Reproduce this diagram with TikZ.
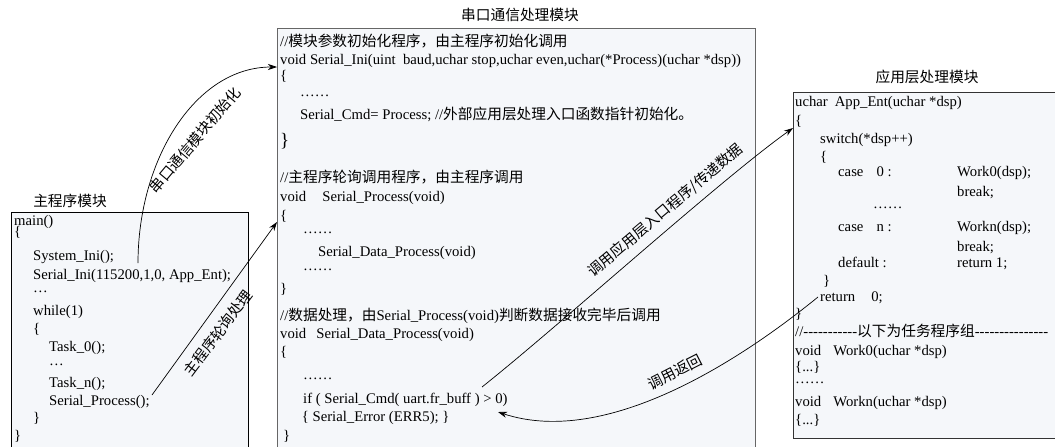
\documentclass[tikz,border=0pt]{standalone}
\usepackage{fontspec}
\setmainfont{Liberation Serif}
\newfontfamily\cjk{Noto Sans CJK SC}
\usetikzlibrary{arrows.meta}
\definecolor{boxfill}{RGB}{245,247,250}
\newcommand\zh[1]{{\cjk #1}}
\newcommand\fs{\fontsize{14.7}{17}\selectfont}
\newcommand\hy{\mbox{-}}
\begin{document}
\begin{tikzpicture}[x=1pt,y=-1pt,
  code/.style={anchor=west,inner sep=0pt,font=\fs,execute at begin node=\strut},
  title/.style={inner sep=0pt,font=\fs},
  lab/.style={inner sep=0pt,font=\fs},
  arr/.style={line width=0.7pt,-{Stealth[length=9pt,width=6pt]}},
  box/.style={anchor=north west,fill=boxfill,inner sep=0pt}]
\useasboundingbox (0,0) rectangle (1055,447);
\clip (0,0) rectangle (1055,447);

% boxes
\node[box,draw=black,line width=0.8pt,minimum width=237pt,minimum height=260pt] (mainbox) at (11,211.5) {};
\node[box,draw=black!60,line width=1.3pt,minimum width=478pt,minimum height=440pt] (serbox) at (277,28) {};
\node[box,draw=black!80,line width=1pt,minimum width=275pt,minimum height=346pt] (appbox) at (792.5,92) {};

% titles
\node[title] (t1) at (70,200.5) {\zh{主程序模块}};
\node[title] (t2) at (520,15) {\zh{串口通信处理模块}};
\node[title] (t3) at (927,76.7) {\zh{应用层处理模块}};

% main program
\node[code] (m1) at (14,221.7) {main()};
\node[code] (m2) at (14,233.5) {\{};
\node[code] (m3) at (33,257) {System\_Ini();};
\node[code] (m4) at (33,275.7) {Serial\_Ini(115200,1,0, App\_Ent);};
\node[code] (m5) at (33,289.3) {…};
\node[code] (m6) at (33,311.7) {while(1)};
\node[code] (m7) at (33,330) {\{};
\node[code] (m8) at (49,347.7) {Task\_0();};
\node[code] (m9) at (49,362.3) {…};
\node[code] (m10) at (49,384) {Task\_n();};
\node[code] (m11) at (49,401.7) {Serial\_Process();};
\node[code] (m12) at (33,419) {\}};
\node[code] (m13) at (14,436.7) {\}};

% serial module
\node[code] (s1) at (280,42.7) {//\zh{模块参数初始化程序，由主程序初始化调用}};
\node[code] (s2) at (280,61) {void Serial\_Ini(uint\ \ baud,uchar stop,uchar even,uchar(*Process)(uchar *dsp))};
\node[code] (s3) at (280,77) {\{};
\node[code] (s4) at (300,93.3) {……};
\node[code] (s5) at (300,116) {Serial\_Cmd= Process;\ //\zh{外部应用层处理入口函数指针初始化。}};
\node[code,font=\fontsize{19}{22}\selectfont] (s6) at (280,141.7) {\}};
\node[code] (s7) at (280,179.3) {//\zh{主程序轮询调用程序，由主程序调用}};
\node[code] (s8) at (280,197.7) {void\hspace{16pt}Serial\_Process(void)};
\node[code] (s9) at (280,216.7) {\{};
\node[code] (s10) at (303,230) {……};
\node[code] (s11) at (318,252.7) {Serial\_Data\_Process(void)};
\node[code] (s12) at (303,266.6) {……};
\node[code] (s13) at (280,290) {\}};
\node[code] (s14) at (280,316.7) {//\zh{数据处理，由}Serial\_Process(void)\zh{判断数据接收完毕后调用}};
\node[code] (s15) at (280,335) {void\hspace{10pt}Serial\_Data\_Process(void)};
\node[code] (s16) at (280,353.3) {\{};
\node[code] (s17) at (303,376) {……};
\node[code] (s18) at (303,400) {if ( Serial\_Cmd( uart.fr\_buff ) > 0)};
\node[code] (s19) at (301.7,418.3) {\{ Serial\_Error (ERR5); \}};
\node[code] (s20) at (283,436.7) {\}};

% application module
\node[code] (a1) at (795,103.3) {uchar\hspace{7pt}App\_Ent(uchar *dsp)};
\node[code] (a2) at (795,121.7) {\{};
\node[code] (a3) at (820,140) {switch(*dsp++)};
\node[code] (a4) at (820,157.7) {\{};
\node[code] (a5) at (838,172.7) {case\hspace{13pt}0 :};
\node[code] (a6) at (957,172.7) {Work0(dsp);};
\node[code] (a7) at (957,193.3) {break;};
\node[code] (a8) at (873,205) {……};
\node[code] (a9) at (838,228.3) {case\hspace{13pt}n :};
\node[code] (a10) at (957,228.3) {Workn(dsp);};
\node[code] (a11) at (957,248.3) {break;};
\node[code] (a12) at (838,264) {default :};
\node[code] (a13) at (957,264) {return 1;};
\node[code] (a14) at (823,281.7) {\}};
\node[code] (a15) at (820,298.3) {return\hspace{16pt}0;};
\node[code] (a16) at (795,315.5) {\}};
\node[code] (a17) at (795,333.3) {//\hy\hy\hy\hy\hy\hy\hy\hy\hy\hy\hy\zh{以下为任务程序组}\hy\hy\hy\hy\hy\hy\hy\hy\hy\hy\hy\hy\hy\hy\hy};
\node[code] (a18) at (795,351.7) {void\hspace{12pt}Work0(uchar *dsp)};
\node[code] (a19) at (795,368.3) {\{...\}};
\node[code] (a20) at (795,380) {……};
\node[code] (a21) at (795,403.3) {void\hspace{12pt}Workn(uchar *dsp)};
\node[code] (a22) at (795,420.7) {\{...\}};

% connector end points
\coordinate (c1s) at (138,263);
\coordinate (c1e) at (277,67);
\coordinate (c2s) at (152,395);
\coordinate (c2e) at (277,222);
\coordinate (c3s) at (482,387);
\coordinate (c3e) at (793,128);
\coordinate (c4s) at (818,297);
\coordinate (c4e) at (498,412);

\draw[arr] (c1s) .. controls (138,160) and (195,67) .. (c1e);
\draw[arr] (c2s) -- (c2e);
\draw[arr] (c3s) .. controls (560,325) and (720,180) .. (c3e);
\draw[arr] (c4s) .. controls (742,359) and (607,448) .. (c4e);

% connector labels
\node[lab,rotate=50] (l1) at (195,140) {\zh{串口通信模块初始化}};
\node[lab,rotate=53] (l2) at (218,333) {\zh{主程序轮询处理}};
\node[lab,rotate=40] (l3) at (665.5,210.5) {\zh{调用应用层入口程序/传递数据}};
\node[lab,rotate=27] (l4) at (675,372) {\zh{调用返回}};
\end{tikzpicture}
\end{document}
